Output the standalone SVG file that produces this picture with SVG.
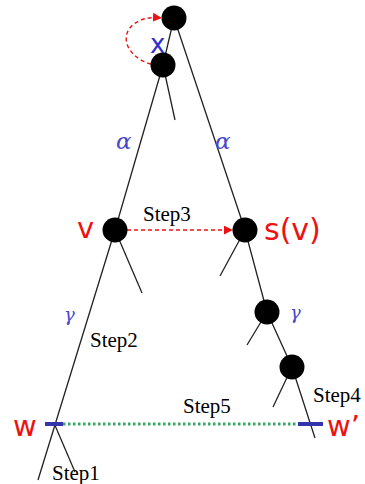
<svg xmlns="http://www.w3.org/2000/svg" width="365" height="484" viewBox="0 0 365 484">
<defs>
<style>
.edge{stroke:#222;stroke-width:1.3;fill:none}
.node{fill:#000}
.red{fill:#ee1111;font-family:"DejaVu Sans",sans-serif}
.blue{fill:#3030c8;font-family:"DejaVu Sans",sans-serif}
.greek{fill:#4848cc;font-family:"DejaVu Serif",serif;font-style:italic}
.step{fill:#000;font-family:"Liberation Serif",serif;font-size:21px}
</style>
<marker id="ah" viewBox="0 0 10 10" refX="9" refY="5" markerWidth="9" markerHeight="9" markerUnits="userSpaceOnUse" orient="auto">
<path d="M0,0L10,5L0,10z" fill="#ee1111"/>
</marker>
</defs>
<g id="connectors">
<path class="edge" d="M174,18L163,65L115,230L38,480"/>
<path class="edge" d="M163,65L175,120"/>
<path class="edge" d="M174,18L245,230L267,312L292,367L315,438"/>
<path class="edge" d="M115,230L142,293"/>
<path class="edge" d="M245,230L220,276"/>
<path class="edge" d="M267,312L247,345"/>
<path class="edge" d="M292,367L273,407"/>
<path class="edge" d="M54,423L75,472"/>
<path d="M151,64C128,58 118,36 134,24C142,18 150,17 161,18" fill="none" stroke="#ee1111" stroke-width="1.4" stroke-dasharray="4,3" marker-end="url(#ah)"/>
<path d="M127,230L232,230" fill="none" stroke="#ee1111" stroke-width="1.4" stroke-dasharray="4,3" marker-end="url(#ah)"/>
<path d="M63,424L298,424" fill="none" stroke="#33aa66" stroke-width="3" stroke-dasharray="2.5,2.5"/>
<path d="M45,424L63,424M298,424L323,424" stroke="#3333aa" stroke-width="4"/>
</g>
<g id="n-top"><circle class="node" cx="174" cy="18" r="12.5"/></g>
<g id="n-x"><circle class="node" cx="163" cy="65" r="12.5"/><text class="blue" x="150" y="53" font-size="26">x</text></g>
<g id="n-v"><circle class="node" cx="115" cy="230" r="12.5"/><text class="red" x="77" y="238" font-size="29">v</text></g>
<g id="n-sv"><circle class="node" cx="245" cy="230" r="12.5"/><text class="red" x="264" y="240" font-size="30">s(v)</text></g>
<g id="n-g1"><circle class="node" cx="267" cy="312" r="12.5"/></g>
<g id="n-g2"><circle class="node" cx="292" cy="367" r="12.5"/></g>
<g id="n-w"><text class="red" x="13" y="436" font-size="29">w</text></g>
<g id="n-w2"><text class="red" x="327" y="436" font-size="29">w’</text></g>
<g id="labels">
<text class="greek" x="116" y="149" font-size="23">α</text>
<text class="greek" x="215" y="149" font-size="23">α</text>
<text class="greek" x="64" y="321" font-size="18">γ</text>
<text class="greek" x="290" y="319" font-size="18">γ</text>
<text class="step" x="143" y="221">Step3</text>
<text class="step" x="90" y="347">Step2</text>
<text class="step" x="183" y="413">Step5</text>
<text class="step" x="313" y="402">Step4</text>
<text class="step" x="52" y="480">Step1</text>
</g>
</svg>
